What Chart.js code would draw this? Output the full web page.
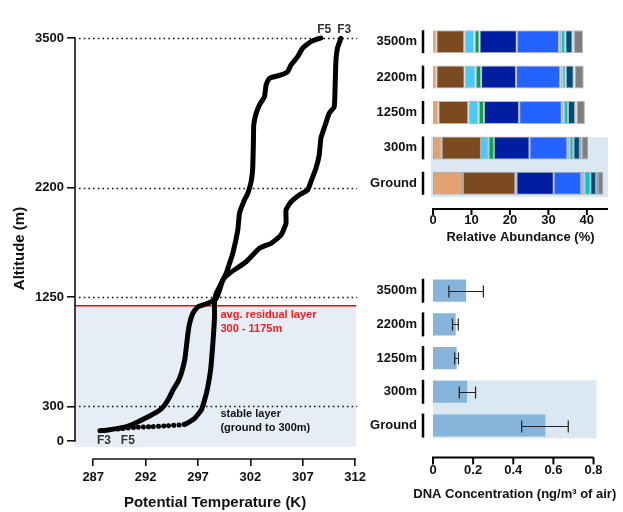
<!DOCTYPE html>
<html>
<head>
<meta charset="utf-8">
<title>Potential temperature profiles, relative abundance and DNA concentration</title>
<script src="https://cdn.jsdelivr.net/npm/chart.js@4.4.1/dist/chart.umd.min.js"></script>
<style>
  body { margin: 0; background: #fff; }
  #page { position: relative; width: 623px; height: 512px; overflow: hidden; }
  .panel { position: absolute; }
</style>
</head>
<body>
<div id="page">
  <div class="panel" style="left:0;top:0;width:370px;height:512px"><canvas id="profileChart"></canvas></div>
  <div class="panel" style="left:360px;top:0;width:263px;height:250px"><canvas id="abundanceChart"></canvas></div>
  <div class="panel" style="left:360px;top:250px;width:263px;height:262px"><canvas id="dnaChart"></canvas></div>
</div>
<script>
// flight F3: potential temperature (K) vs altitude (m)
const f3Temp = [287.64, 288.43, 289.38, 290.33, 291.28, 292.39, 293.35, 293.82, 294.30, 294.61, 295.09, 295.41, 295.73, 295.89, 296.04, 296.20, 296.51, 296.99, 297.94, 298.74, 299.06, 299.37, 300.01, 301.60, 302.86, 303.97, 304.93, 305.40, 305.40, 305.88, 306.67, 307.46, 307.78, 308.26, 308.57, 308.73, 309.14, 309.52, 310.00, 310.09, 310.16, 310.31, 310.63];
const f3Alt = [89, 96, 110, 130, 168, 217, 269, 313, 385, 443, 515, 588, 703, 819, 935, 1022, 1109, 1166, 1196, 1239, 1311, 1398, 1456, 1557, 1674, 1717, 1789, 1891, 2006, 2078, 2137, 2180, 2252, 2368, 2484, 2629, 2744, 2846, 2903, 3092, 3294, 3411, 3497];

// flight F5
const f5Temp = [289.35, 290.97, 292.56, 294.14, 295.73, 296.68, 297.31, 297.63, 297.94, 298.20, 298.42, 298.58, 298.58, 298.74, 299.06, 299.69, 300.01, 300.32, 300.80, 300.96, 301.43, 301.75, 302.07, 302.22, 302.29, 302.32, 302.55, 302.86, 303.34, 303.50, 303.81, 304.93, 305.55, 305.88, 306.51, 306.98, 307.78, 308.73];
const f5Alt = [104, 119, 124, 133, 145, 197, 269, 356, 472, 617, 849, 1080, 1199, 1285, 1340, 1456, 1543, 1630, 1833, 1978, 2093, 2151, 2252, 2368, 2599, 2744, 2846, 2918, 2990, 3092, 3150, 3179, 3207, 3266, 3338, 3411, 3468, 3500];

const tempTicks = [287, 292, 297, 302, 307, 312];
const altTicks = [0, 300, 1250, 2200, 3500];
const refLines = [300, 1250, 2200, 3500];
const residualTop = 1175;
const shadeBottom = -52;

// relative abundance (%) per sampling height, one array per stacked group
const heights = ["3500m", "2200m", "1250m", "300m", "Ground"];
const abundanceTicks = [0, 10, 20, 30, 40];
const peach = [0.87, 0.87, 1.39, 2.25, 7.8];
const brown = [7.27, 7.36, 7.79, 10.22, 13.6];
const lightBlue = [2.66, 2.87, 2.68, 1.99, 0];
const green = [1.3, 1.4, 1.39, 1.38, 0.3];
const darkBlue = [9.7, 9.1, 9.15, 9.26, 9.7];
const blue = [11.0, 11.5, 11.1, 9.8, 7.1];
const greyBlue = [0.5, 0.5, 0.5, 0.6, 0.9];
const cyan = [1.1, 0.9, 1.1, 1.0, 1.5];
const teal = [1.9, 2.1, 1.9, 1.7, 1.5];
const purple = [0.3, 0.2, 0.3, 0.4, 0.5];
const grey = [2.4, 2.4, 2.2, 1.7, 1.4];

// DNA concentration (ng/m3 of air), mean with error range
const dnaConc = [0.165, 0.113, 0.118, 0.170, 0.560];
const dnaLow = [0.079, 0.097, 0.108, 0.131, 0.442];
const dnaHigh = [0.251, 0.126, 0.127, 0.212, 0.674];
const dnaTicks = [0, 0.2, 0.4, 0.6, 0.8];

const abundanceSeries = [peach, brown, lightBlue, green, darkBlue, blue, greyBlue, cyan, teal, purple, grey];
const segmentColors = ["#e4a171", "#7b4a1f", "#4cc9f6", "#00a550", "#001ea2", "#2463ff", "#a3b6d2", "#00c6cc", "#004c78", "#8c8ce8", "#7f7f7f"];

const FONT = "'Liberation Sans', Arial, Helvetica, sans-serif";
Chart.defaults.font.family = FONT;
Chart.defaults.color = "#111";

const tickFont = { size: 13, weight: "bold" };

function fixedTicks(list) {
  return (scale) => {
    scale.ticks = list.map((v) => ({ value: v }));
  };
}

const profileDecor = {
  id: "profileDecor",
  beforeDatasetsDraw(chart) {
    const { ctx, chartArea: a, scales: { x, y } } = chart;
    const top = y.getPixelForValue(residualTop);
    const bottom = y.getPixelForValue(shadeBottom);
    ctx.save();
    ctx.fillStyle = "#e6edf7";
    ctx.fillRect(a.left, top, a.right - a.left + 1, bottom - top);

    ctx.strokeStyle = "#111";
    ctx.lineWidth = 1.6;
    ctx.setLineDash([1.6, 3.1]);
    refLines.forEach((v) => {
      const py = Math.round(y.getPixelForValue(v)) + 0.5;
      ctx.beginPath();
      ctx.moveTo(a.left + 4, py);
      ctx.lineTo(a.right + 2, py);
      ctx.stroke();
    });
    ctx.setLineDash([]);

    ctx.strokeStyle = "#ff0000";
    ctx.lineWidth = 1.5;
    ctx.beginPath();
    ctx.moveTo(a.left, top);
    ctx.lineTo(a.right + 1, top);
    ctx.stroke();
    ctx.restore();
  },
  afterDraw(chart) {
    const { ctx, chartArea: a, scales: { x, y } } = chart;
    ctx.save();
    ctx.strokeStyle = "#111";
    ctx.lineWidth = 1.6;
    ctx.beginPath();
    ctx.moveTo(a.left, y.getPixelForValue(altTicks[0]) + 0.8);
    ctx.lineTo(a.left, y.getPixelForValue(altTicks[altTicks.length - 1]) - 0.8);
    ctx.stroke();
    ctx.beginPath();
    ctx.moveTo(x.getPixelForValue(tempTicks[0]) - 0.8, a.bottom);
    ctx.lineTo(x.getPixelForValue(tempTicks[tempTicks.length - 1]) + 0.8, a.bottom);
    ctx.stroke();

    ctx.textBaseline = "middle";
    ctx.textAlign = "center";
    ctx.fillStyle = "#333";
    ctx.font = "bold 12px " + FONT;
    ctx.fillText("F5", x.getPixelForValue(309.05), y.getPixelForValue(3570));
    ctx.fillText("F3", x.getPixelForValue(310.95), y.getPixelForValue(3570));
    ctx.fillText("F3", x.getPixelForValue(288.02), y.getPixelForValue(0));
    ctx.fillText("F5", x.getPixelForValue(290.3), y.getPixelForValue(0));

    ctx.textAlign = "left";
    ctx.font = "bold 11px " + FONT;
    ctx.fillStyle = "#ff1a1a";
    ctx.fillText("avg. residual layer", x.getPixelForValue(299.14), y.getPixelForValue(1094));
    ctx.fillText("300 - 1175m", x.getPixelForValue(299.14), y.getPixelForValue(973));
    ctx.fillStyle = "#111";
    ctx.fillText("stable layer", x.getPixelForValue(299.14), y.getPixelForValue(234));
    ctx.fillText("(ground to 300m)", x.getPixelForValue(299.14), y.getPixelForValue(111));
    ctx.restore();
  },
};

function toPoints(temps, alts) {
  return temps.map((t, i) => ({ x: t, y: alts[i] }));
}

const profileLine = {
  borderColor: "#000",
  backgroundColor: "#000",
  borderWidth: 5,
  pointRadius: 0,
  tension: 0.15,
  borderCapStyle: "round",
  borderJoinStyle: "round",
  clip: false,
};

new Chart(document.getElementById("profileChart"), {
  type: "line",
  data: {
    datasets: [
      { ...profileLine, label: "F3", data: toPoints(f3Temp, f3Alt) },
      {
        ...profileLine,
        label: "F5",
        data: toPoints(f5Temp, f5Alt),
        segment: { borderDash: (c) => (c.p0DataIndex < 4 ? [0.1, 5] : undefined) },
      },
    ],
  },
  options: {
    animation: false,
    responsive: true,
    maintainAspectRatio: false,
    layout: { padding: { top: 38, right: 14, bottom: 0, left: 0 } },
    plugins: { legend: { display: false }, tooltip: { enabled: false } },
    scales: {
      x: {
        type: "linear",
        min: 285.26,
        max: 312,
        afterBuildTicks: fixedTicks(tempTicks),
        afterFit: (s) => { s.height = 53; },
        border: { display: false },
        grid: { drawOnChartArea: false, drawTicks: true, tickLength: 7, color: "#111", lineWidth: 1.6 },
        ticks: { padding: 4, font: tickFont, maxRotation: 0, autoSkip: false, callback: (v) => String(v) },
        title: { display: true, text: "Potential Temperature (K)", font: { size: 15, weight: "bold" }, padding: { top: 0, bottom: 0 } },
      },
      y: {
        type: "linear",
        min: -156.3,
        max: 3500,
        afterBuildTicks: fixedTicks(altTicks),
        afterFit: (s) => { s.width = 75; },
        border: { display: false },
        grid: { drawOnChartArea: false, drawTicks: true, tickLength: 8, color: "#111", lineWidth: 1.6 },
        ticks: { padding: 3, font: tickFont, autoSkip: false, callback: (v) => String(v) },
        title: { display: true, text: "Altitude (m)", font: { size: 15, weight: "bold" }, padding: { top: 11, bottom: 0 } },
      },
    },
  },
  plugins: [profileDecor],
});

// shading behind the two lowest rows, axis drawn below the rows, small bar per row on the category side
function rowAxisDecor(o) {
  return {
    id: "rowAxisDecor",
    beforeDatasetsDraw(chart) {
      const { ctx, chartArea: a, scales: { y } } = chart;
      const step = y.getPixelForValue(1) - y.getPixelForValue(0);
      const top = y.getPixelForValue(3) - o.shadeAbove * step;
      const bottom = y.getPixelForValue(4) + o.shadeBelow * step;
      ctx.save();
      ctx.fillStyle = "#dbe8f2";
      ctx.fillRect(a.left - o.shadeLeft, top, a.right - a.left + o.shadeLeft, bottom - top);
      ctx.restore();
    },
    afterDraw(chart) {
      const { ctx, chartArea: a, scales: { x, y } } = chart;
      const ay = a.bottom + o.gap;
      ctx.save();
      ctx.strokeStyle = "#000";
      ctx.lineWidth = 2;
      ctx.beginPath();
      ctx.moveTo(x.getPixelForValue(0) - 1, ay);
      ctx.lineTo(x.getPixelForValue(o.axisEnd), ay);
      ctx.stroke();
      o.ticks.forEach((v) => {
        const px = x.getPixelForValue(v);
        ctx.beginPath();
        ctx.moveTo(px, ay);
        ctx.lineTo(px, ay + o.tickLen);
        ctx.stroke();
      });
      ctx.lineWidth = 2.5;
      heights.forEach((_, i) => {
        const py = y.getPixelForValue(i);
        ctx.beginPath();
        ctx.moveTo(a.left - 10, py - o.sepHalf);
        ctx.lineTo(a.left - 10, py + o.sepHalf);
        ctx.stroke();
      });
      if (o.title) {
        ctx.fillStyle = "#111";
        ctx.font = "bold 13px " + FONT;
        ctx.textAlign = "center";
        ctx.textBaseline = "middle";
        ctx.fillText(o.title, (a.left + a.right) / 2, a.bottom + o.titleGap);
      }
      ctx.restore();
    },
  };
}

new Chart(document.getElementById("abundanceChart"), {
  type: "bar",
  data: {
    labels: heights,
    datasets: abundanceSeries.map((values, i) => ({
      data: values,
      backgroundColor: segmentColors[i],
      borderColor: "rgba(0,0,0,0.28)",
      borderWidth: 1,
      borderSkipped: false,
      barPercentage: 0.65,
      categoryPercentage: 1,
    })),
  },
  options: {
    indexAxis: "y",
    animation: false,
    responsive: true,
    maintainAspectRatio: false,
    layout: { padding: { top: 24, right: 15, bottom: 0, left: 0 } },
    plugins: { legend: { display: false }, tooltip: { enabled: false } },
    scales: {
      x: {
        stacked: true,
        min: 0,
        max: 45.5,
        afterBuildTicks: fixedTicks(abundanceTicks),
        afterFit: (s) => { s.height = 49; },
        grid: { display: false, drawTicks: false },
        border: { display: false },
        ticks: { padding: 12, font: tickFont, maxRotation: 0 },
        title: { display: true, text: "Relative Abundance (%)", font: { size: 13, weight: "bold" }, padding: { top: 0, bottom: 5 } },
      },
      y: {
        stacked: true,
        afterFit: (s) => { s.width = 73; },
        grid: { display: false, drawTicks: false },
        border: { display: false },
        ticks: { padding: 16, font: tickFont },
      },
    },
  },
  plugins: [rowAxisDecor({ shadeAbove: 0.3, shadeBelow: 0.39, shadeLeft: 2, gap: 8, axisEnd: 45.5, ticks: abundanceTicks, tickLen: 6, sepHalf: 11.5 })],
});

const errorBars = {
  id: "errorBars",
  afterDatasetsDraw(chart) {
    const { ctx, scales: { x, y } } = chart;
    ctx.save();
    ctx.strokeStyle = "#222";
    ctx.lineWidth = 1.2;
    dnaConc.forEach((_, i) => {
      const py = Math.round(y.getPixelForValue(i)) + 0.5;
      const x1 = x.getPixelForValue(dnaLow[i]);
      const x2 = x.getPixelForValue(dnaHigh[i]);
      ctx.beginPath();
      ctx.moveTo(x1, py);
      ctx.lineTo(x2, py);
      ctx.moveTo(x1, py - 6);
      ctx.lineTo(x1, py + 6);
      ctx.moveTo(x2, py - 6);
      ctx.lineTo(x2, py + 6);
      ctx.stroke();
    });
    ctx.restore();
  },
};

new Chart(document.getElementById("dnaChart"), {
  type: "bar",
  data: {
    labels: heights,
    datasets: [{
      data: dnaConc,
      backgroundColor: "#86b4da",
      borderWidth: 0,
      barPercentage: 0.655,
      categoryPercentage: 1,
    }],
  },
  options: {
    indexAxis: "y",
    animation: false,
    responsive: true,
    maintainAspectRatio: false,
    layout: { padding: { top: 1.6, right: 22.6, bottom: 0, left: 0 } },
    plugins: { legend: { display: false }, tooltip: { enabled: false } },
    scales: {
      x: {
        min: 0,
        max: 0.815,
        afterBuildTicks: fixedTicks(dnaTicks),
        afterFit: (s) => { s.height = 69.6; },
        grid: { display: false, drawTicks: false },
        border: { display: false },
        ticks: { padding: 20, font: tickFont, maxRotation: 0 },
      },
      y: {
        afterFit: (s) => { s.width = 73; },
        grid: { display: false, drawTicks: false },
        border: { display: false },
        ticks: { padding: 16, font: tickFont },
      },
    },
  },
  plugins: [rowAxisDecor({ shadeAbove: 0.34, shadeBelow: 0.38, shadeLeft: 0, gap: 15, axisEnd: 0.8, ticks: dnaTicks, tickLen: 7, sepHalf: 12, title: "DNA Concentration (ng/m³ of air)", titleGap: 51.6 }), errorBars],
});
</script>
</body>
</html>
